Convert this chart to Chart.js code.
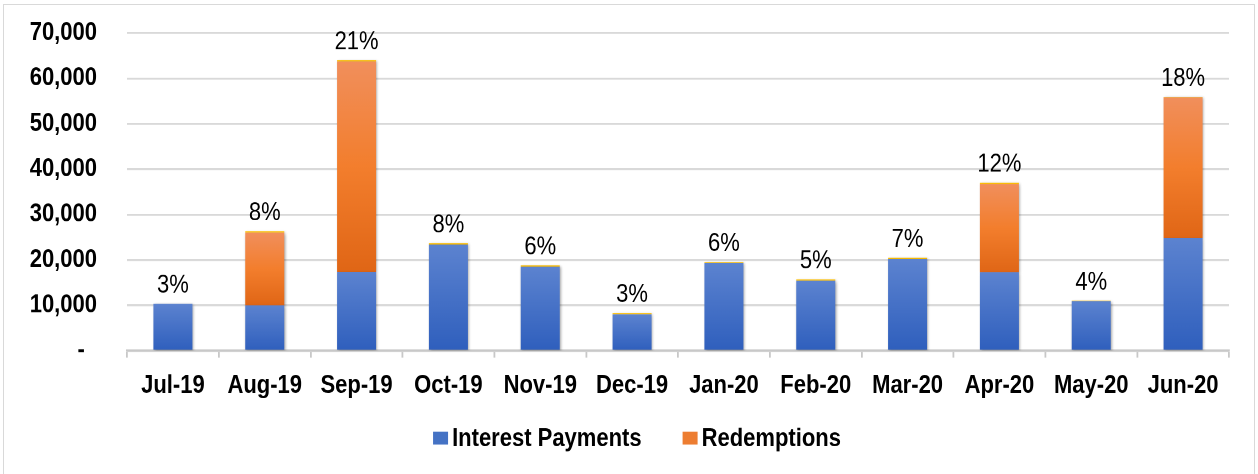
<!DOCTYPE html>
<html>
<head>
<meta charset="utf-8">
<script src="https://cdn.jsdelivr.net/npm/chart.js@4"></script>
<style>
  html, body { margin: 0; padding: 0; background: #fff; }
  #wrap { position: relative; width: 1258px; height: 474px; overflow: hidden; }
  #frame { position: absolute; left: 3px; top: 4px; width: 1250px; height: 480px; border: 1px solid #d9d9d9; pointer-events: none; }
  /* the source image is stretched vertically, so the chart is drawn 409px tall and scaled up */
  #stage { position: absolute; left: 0; top: 0; width: 1258px; height: 409px; transform: scaleY(1.1589); transform-origin: 0 0; }
</style>
</head>
<body>
<div id="wrap">
  <div id="frame"></div>
  <div id="stage"><canvas id="chart"></canvas></div>
</div>
<script>
// --- DATA ---
const months = ['Jul-19', 'Aug-19', 'Sep-19', 'Oct-19', 'Nov-19', 'Dec-19', 'Jan-20', 'Feb-20', 'Mar-20', 'Apr-20', 'May-20', 'Jun-20'];
const interest = [10350, 10000, 17400, 23400, 18500, 8000, 19300, 15400, 20200, 17300, 10900, 24800];
const redemptions = [0, 16000, 46300, 0, 0, 0, 0, 0, 0, 19400, 0, 31000];
const other = [0, 300, 300, 300, 300, 300, 200, 300, 300, 300, 150, 150];
const shareLabels = ['3%', '8%', '21%', '8%', '6%', '3%', '6%', '5%', '7%', '12%', '4%', '18%'];
const yTicks = [0, 10000, 20000, 30000, 40000, 50000, 60000, 70000];

const FONT = "'Liberation Sans', Arial, sans-serif";

// gradient fill per bar segment, built from the stacked values
function barGradient(stops, solid) {
  return (c) => {
    if (c.type !== 'data') return solid;
    const { chart, datasetIndex, dataIndex } = c;
    const y = chart.scales.y;
    if (!y || !chart.chartArea) return solid;
    let base = 0;
    for (let d = 0; d < datasetIndex; d++) base += chart.data.datasets[d].data[dataIndex];
    const top = base + chart.data.datasets[datasetIndex].data[dataIndex];
    const y0 = y.getPixelForValue(top), y1 = y.getPixelForValue(base);
    if (!isFinite(y0) || !isFinite(y1) || y1 - y0 < 1) return solid;
    const g = chart.ctx.createLinearGradient(0, y0, 0, y1);
    stops.forEach(([o, col]) => g.addColorStop(o, col));
    return g;
  };
}

// soft shadow under bars + percentage labels on top
const barDecor = {
  id: 'barDecor',
  beforeDatasetsDraw(chart) {
    const ctx = chart.ctx;
    ctx.save();
    ctx.shadowColor = 'rgba(0,0,0,0.35)';
    ctx.shadowBlur = 5;
    ctx.shadowOffsetX = 2;
    ctx.shadowOffsetY = 2;
  },
  afterDatasetsDraw(chart) {
    const { ctx, scales: { x, y } } = chart;
    ctx.restore();
    ctx.save();
    ctx.font = '22px ' + FONT;
    ctx.fillStyle = '#000';
    ctx.textAlign = 'center';
    ctx.textBaseline = 'alphabetic';
    shareLabels.forEach((txt, i) => {
      const total = interest[i] + redemptions[i] + other[i];
      ctx.fillText(txt, x.getPixelForValue(i), y.getPixelForValue(total) - 9.5);
    });
    ctx.restore();
  }
};

// legend drawn by hand so box/text spacing matches Excel's
const bottomLegend = {
  id: 'bottomLegend',
  afterDraw(chart) {
    const ctx = chart.ctx;
    const items = chart.data.datasets.filter(d => d.legendColor);
    ctx.save();
    ctx.font = 'bold 22px ' + FONT;
    const boxW = 15, boxH = 11.2, gap = 4, spacing = 41;
    const widths = items.map(d => ctx.measureText(d.label).width);
    const total = widths.reduce((a, w) => a + boxW + gap + w, 0) + spacing * (items.length - 1);
    let x = chart.width / 2 - total / 2 + 8;
    const yc = 378;
    ctx.textBaseline = 'middle';
    ctx.textAlign = 'left';
    items.forEach((d, i) => {
      ctx.fillStyle = d.legendColor;
      ctx.fillRect(x, yc - boxH / 2, boxW, boxH);
      x += boxW + gap;
      ctx.fillStyle = '#000';
      ctx.fillText(d.label, x, yc + 1);
      x += widths[i] + spacing;
    });
    ctx.restore();
  }
};

const ctx = document.getElementById('chart');
new Chart(ctx, {
  type: 'bar',
  data: {
    labels: months,
    datasets: [
      {
        label: 'Interest Payments',
        data: interest,
        legendColor: '#4472c4',
        backgroundColor: barGradient([[0, '#5c83d0'], [1, '#2f5fbd']], '#4472c4'),
        barPercentage: 0.85,
        categoryPercentage: 0.5
      },
      {
        label: 'Redemptions',
        data: redemptions,
        legendColor: '#ed7d31',
        backgroundColor: barGradient([[0, '#f18f5c'], [0.5, '#f37e2d'], [1, '#e06616']], '#ed7d31'),
        barPercentage: 0.85,
        categoryPercentage: 0.5
      },
      {
        label: 'Other',
        data: other,
        backgroundColor: '#ffc000',
        barPercentage: 0.85,
        categoryPercentage: 0.5
      }
    ]
  },
  options: {
    responsive: true,
    maintainAspectRatio: false,
    animation: false,
    devicePixelRatio: 2,
    layout: { autoPadding: false, padding: { left: 0, right: 29, top: 28.5, bottom: 63 } },
    plugins: {
      tooltip: { enabled: false },
      legend: { display: false }
    },
    scales: {
      x: {
        stacked: true,
        afterFit: (s) => { s.height = 43.4; },
        grid: { drawOnChartArea: false, color: '#c8c8c8', lineWidth: 1.8, tickLength: 6, offset: true },
        border: { color: '#c8c8c8', width: 1.8 },
        ticks: { color: '#000', font: { family: FONT, size: 22, weight: 'bold' }, padding: 11, maxRotation: 0, autoSkip: false }
      },
      y: {
        stacked: true,
        min: 0,
        max: 70000,
        afterFit: (s) => { s.width = 127; s.paddingTop = 0; s.paddingBottom = 0; },
        afterBuildTicks: (s) => { s.ticks = yTicks.map(v => ({ value: v })); },
        grid: { color: '#d9d9d9', lineWidth: 1.7, drawTicks: false },
        border: { display: false },
        ticks: {
          color: '#000',
          padding: 30,
          font: { family: FONT, size: 22, weight: 'bold' },
          callback: (v) => v === 0 ? '-  ' : v.toLocaleString('en-US')
        }
      }
    }
  },
  plugins: [barDecor, bottomLegend]
});
</script>
</body>
</html>
